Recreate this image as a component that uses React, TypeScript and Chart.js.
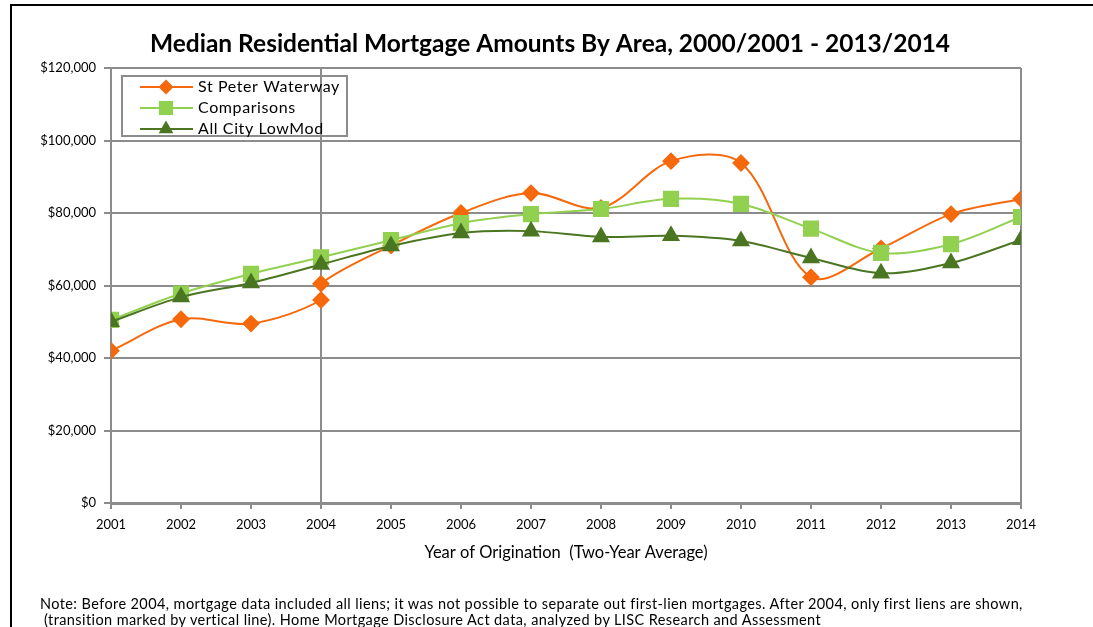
import React, { useEffect, useRef } from "react";
import { Chart, registerables } from "chart.js";

Chart.register(...registerables);

// ---- Data ----
const years = [2001, 2002, 2003, 2004, 2005, 2006, 2007, 2008, 2009, 2010, 2011, 2012, 2013, 2014];
// St Peter Waterway has two values at 2004 (before / after the first-lien transition)
const stPeterYears = [2001, 2002, 2003, 2004, 2004, 2005, 2006, 2007, 2008, 2009, 2010, 2011, 2012, 2013, 2014];
const stPeterValues = [42000, 50700, 49500, 56000, 60500, 71000, 80000, 85500, 81400, 94300, 93800, 62300, 70200, 79700, 83900];
const comparisonsValues = [50500, 57800, 63200, 67800, 72500, 77200, 79700, 81100, 83900, 82500, 75700, 69000, 71400, 78900];
const allCityValues = [50000, 56800, 60700, 65800, 70900, 74500, 75000, 73400, 73700, 72300, 67600, 63400, 66200, 72600];
const seriesNames = ["St Peter Waterway", "Comparisons", "All City LowMod"];
const yTicks = [0, 20000, 40000, 60000, 80000, 100000, 120000];

const titleText = "Median Residential Mortgage Amounts By Area, 2000/2001 - 2013/2014";
const xTitleText = "Year of Origination  (Two-Year Average)";
const noteLine1 =
  "Note: Before 2004, mortgage data included all liens; it was not possible to separate out first-lien mortgages. After 2004, only first liens are shown,";
const noteLine2 =
  " (transition marked by vertical line). Home Mortgage Disclosure Act data, analyzed by LISC Research and Assessment";

const ORANGE = "#f5690c";
const LIGHT = "#92d050";
const DARK = "#4b7621";
const GRID = "#8c8c8c";
const FONT = "Lato, 'Open Sans', sans-serif";
const TENSION = 0.33;

const PLOT_LEFT = 111;
const PLOT_RIGHT = 1021;
const PLOT_TOP = 68;
const PLOT_BOTTOM = 503;
const W = 1093;
const H = 627;

function drawMarker(ctx: CanvasRenderingContext2D, style: string, r: number, x: number, y: number) {
  ctx.beginPath();
  if (style === "rectRot") {
    ctx.moveTo(x, y - r);
    ctx.lineTo(x + r, y);
    ctx.lineTo(x, y + r);
    ctx.lineTo(x - r, y);
  } else if (style === "rect") {
    const s = Math.SQRT1_2 * r;
    ctx.rect(x - s, y - s, 2 * s, 2 * s);
  } else {
    const cos = Math.cos(Math.PI / 6) * r;
    ctx.moveTo(x, y - r);
    ctx.lineTo(x + cos, y + r / 2);
    ctx.lineTo(x - cos, y + r / 2);
  }
  ctx.closePath();
  ctx.fill();
}

const customPlugin = {
  id: "customDecor",
  afterDatasetsDraw(chart: any) {
    const ctx = chart.ctx;
    ctx.save();
    // legend box
    const bx = 122, by = 76, bw = 225, bh = 60;
    ctx.strokeStyle = GRID;
    ctx.lineWidth = 2;
    ctx.strokeRect(bx, by, bw, bh);
    const rows = [87, 108, 129];
    chart.data.datasets.forEach((ds: any, i: number) => {
      const y = rows[i];
      ctx.strokeStyle = ds.borderColor;
      ctx.lineWidth = 2;
      ctx.beginPath();
      ctx.moveTo(140, y);
      ctx.lineTo(193, y);
      ctx.stroke();
      ctx.fillStyle = ds.pointBackgroundColor;
      drawMarker(ctx, ds.pointStyle, ds.pointRadius, 166, y);
      ctx.fillStyle = "#000";
      ctx.font = `16px ${FONT}`;
      (ctx as any).letterSpacing = "0.6px";
      ctx.textAlign = "left";
      ctx.textBaseline = "middle";
      ctx.fillText(ds.label, 198, y);
      (ctx as any).letterSpacing = "0px";
    });
    ctx.restore();
  },
  afterDraw(chart: any) {
    const ctx = chart.ctx;
    ctx.save();
    ctx.fillStyle = "#000";
    ctx.textAlign = "center";
    ctx.textBaseline = "middle";
    ctx.font = `bold 24.5px ${FONT}`;
    ctx.fillText(titleText, 550, 44);
    ctx.font = `16.5px ${FONT}`;
    ctx.fillText(xTitleText, 566, 553);
    ctx.restore();
  },
};

export default function App() {
  const canvasRef = useRef<HTMLCanvasElement | null>(null);

  useEffect(() => {
    if (!canvasRef.current) return;
    const stPeterData = stPeterYears.map((x, i) => ({ x, y: stPeterValues[i] }));
    const compData = years.map((x, i) => ({ x, y: comparisonsValues[i] }));
    const cityData = years.map((x, i) => ({ x, y: allCityValues[i] }));

    const chart = new Chart(canvasRef.current, {
      type: "line",
      data: {
        datasets: [
          {
            label: seriesNames[0],
            data: stPeterData,
            borderColor: ORANGE,
            backgroundColor: ORANGE,
            pointBackgroundColor: ORANGE,
            pointBorderColor: ORANGE,
            pointStyle: "rectRot",
            pointRadius: 7.5,
            borderWidth: 2,
            tension: TENSION,
            order: 3,
          },
          {
            label: seriesNames[1],
            data: compData,
            borderColor: LIGHT,
            backgroundColor: LIGHT,
            pointBackgroundColor: LIGHT,
            pointBorderColor: LIGHT,
            pointStyle: "rect",
            pointRadius: 10,
            borderWidth: 2,
            tension: TENSION,
            order: 2,
          },
          {
            label: seriesNames[2],
            data: cityData,
            borderColor: DARK,
            backgroundColor: DARK,
            pointBackgroundColor: DARK,
            pointBorderColor: DARK,
            pointStyle: "triangle",
            pointRadius: 8.5,
            borderWidth: 2,
            tension: TENSION,
            order: 1,
          },
        ] as any,
      },
      options: {
        animation: false,
        responsive: false,
        maintainAspectRatio: false,
        layout: {
          padding: { left: 0, top: PLOT_TOP, right: W - PLOT_RIGHT, bottom: 0 },
        },
        plugins: {
          legend: { display: false },
          title: { display: false },
          tooltip: { enabled: false },
        },
        scales: {
          x: {
            type: "linear",
            min: 2001,
            max: 2014,
            afterFit: (scale: any) => {
              scale.height = H - PLOT_BOTTOM;
            },
            afterBuildTicks: (scale: any) => {
              scale.ticks = years.map((v) => ({ value: v }));
            },
            ticks: {
              color: "#000",
              font: { family: FONT, size: 13 },
              padding: 8,
              maxRotation: 0,
              autoSkip: false,
              callback: (v: any) => String(v),
            },
            grid: {
              color: (c: any) =>
                c.tick && (c.tick.value === 2004 || c.tick.value === 2014) ? GRID : "rgba(0,0,0,0)",
              lineWidth: 2,
              tickColor: GRID,
              tickLength: 6,
              drawOnChartArea: true,
            },
            border: { color: GRID, width: 3 },
          },
          y: {
            min: 0,
            max: 120000,
            afterFit: (scale: any) => {
              scale.width = PLOT_LEFT;
            },
            afterBuildTicks: (scale: any) => {
              scale.ticks = yTicks.map((v) => ({ value: v }));
            },
            ticks: {
              color: "#000",
              font: { family: FONT, size: 13 },
              padding: 8,
              callback: (v: any) => "$" + Number(v).toLocaleString("en-US"),
            },
            grid: {
              color: GRID,
              lineWidth: 2,
              tickLength: 7,
              tickColor: GRID,
            },
            border: { color: GRID, width: 2 },
          },
        },
      } as any,
      plugins: [customPlugin],
    });
    return () => chart.destroy();
  }, []);

  return (
    <div style={{ position: "fixed", left: 0, top: 0, width: W, height: H, background: "#fff", overflow: "hidden" }}>
      <div
        style={{
          position: "absolute",
          left: 10,
          top: 4,
          width: W,
          height: H,
          borderLeft: "2px solid #000",
          borderTop: "2px solid #000",
        }}
      />
      <canvas ref={canvasRef} width={W} height={H} style={{ position: "absolute", left: 0, top: 0 }} />
      <div
        style={{
          position: "absolute",
          left: 40,
          top: 596,
          fontFamily: FONT,
          fontSize: 14.5,
          letterSpacing: "0.4px",
          lineHeight: "16px",
          color: "#000",
          whiteSpace: "pre",
        }}
      >
        <div>{noteLine1}</div>
        <div>{noteLine2}</div>
      </div>
    </div>
  );
}
